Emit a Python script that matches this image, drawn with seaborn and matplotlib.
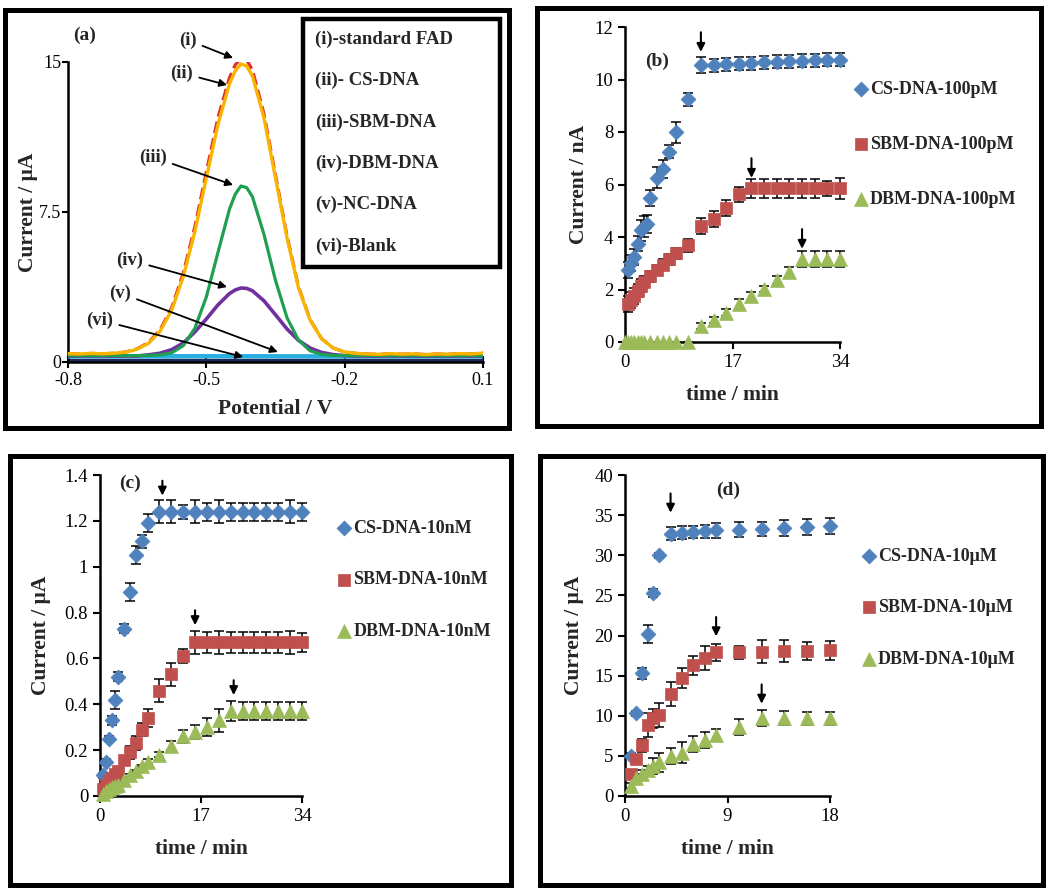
import numpy as np
import pandas as pd
import seaborn as sns
import matplotlib.pyplot as plt
from matplotlib.patches import Rectangle
from matplotlib.ticker import FuncFormatter

# ---------------- panel (a): voltammograms ----------------
potential = [-0.8, -0.775, -0.75, -0.725, -0.7, -0.675, -0.65, -0.625, -0.6, -0.575,
             -0.55, -0.525, -0.5, -0.475, -0.45, -0.4375, -0.425, -0.4125, -0.4, -0.375,
             -0.35, -0.325, -0.3, -0.275, -0.25, -0.225, -0.2, -0.175, -0.15, -0.125,
             -0.1, -0.075, -0.05, -0.025, 0.0, 0.025, 0.05, 0.075, 0.1]
fad_current = [0.42, 0.40, 0.43, 0.41, 0.44, 0.50, 0.66, 0.98, 1.62, 2.72,
               4.45, 6.75, 9.5, 12.2, 14.2, 14.85, 15.2, 15.1, 14.6, 12.4,
               9.35, 6.3, 3.75, 2.12, 1.17, 0.70, 0.50, 0.43, 0.40, 0.38,
               0.42, 0.39, 0.41, 0.37, 0.40, 0.39, 0.42, 0.40, 0.45]
cs_current = [0.42, 0.40, 0.43, 0.41, 0.44, 0.49, 0.64, 0.94, 1.55, 2.6,
              4.27, 6.5, 9.2, 11.85, 13.9, 14.55, 14.9, 14.8, 14.3, 12.2,
              9.2, 6.2, 3.7, 2.1, 1.16, 0.70, 0.50, 0.43, 0.40, 0.38,
              0.42, 0.39, 0.41, 0.37, 0.40, 0.39, 0.42, 0.40, 0.45]
sbm_current = [0.32, 0.32, 0.32, 0.32, 0.32, 0.32, 0.32, 0.33, 0.36, 0.46,
               0.82, 1.68, 3.25, 5.46, 7.63, 8.38, 8.8, 8.72, 8.26, 6.38,
               4.08, 2.21, 1.09, 0.56, 0.38, 0.33, 0.32, 0.32, 0.32, 0.32,
               0.32, 0.32, 0.32, 0.32, 0.32, 0.32, 0.32, 0.32, 0.32]
dbm_current = [0.30, 0.30, 0.30, 0.30, 0.30, 0.30, 0.30, 0.36, 0.44, 0.62,
               0.95, 1.5, 2.15, 2.85, 3.42, 3.6, 3.7, 3.68, 3.56, 3.06,
               2.36, 1.65, 1.08, 0.70, 0.48, 0.37, 0.32, 0.30, 0.30, 0.30,
               0.30, 0.30, 0.30, 0.30, 0.30, 0.30, 0.30, 0.30, 0.30]
flat_potential = [-0.8, -0.5, -0.2, 0.1]
nc_current = [0.28, 0.29, 0.28, 0.28]
blank_current = [0.12, 0.12, 0.12, 0.12]

# ---------------- panel (b): 100 pM ----------------
b_cs_t = [0.5, 1, 1.5, 2, 2.5, 3, 3.5, 4, 5, 6, 7, 8, 10,
          12, 14, 16, 18, 20, 22, 24, 26, 28, 30, 32, 34]
b_cs = [2.75, 3.0, 3.25, 3.75, 4.25, 4.4, 4.5, 5.5, 6.25, 6.6, 7.25, 8.0, 9.25,
        10.55, 10.55, 10.58, 10.6, 10.62, 10.65, 10.67, 10.7, 10.72, 10.73, 10.75, 10.75]
b_cs_err = [0.3, 0.3, 0.3, 0.3, 0.4, 0.4, 0.35, 0.3, 0.4, 0.35, 0.25, 0.4, 0.25,
            0.3, 0.25, 0.25, 0.25, 0.25, 0.25, 0.25, 0.25, 0.25, 0.25, 0.25, 0.25]
b_sbm_t = [0.5, 1, 1.5, 2, 2.5, 3, 4, 5, 6, 7, 8, 10, 12, 14, 16, 18,
           20, 22, 24, 26, 28, 30, 32, 34]
b_sbm = [1.45, 1.6, 1.75, 1.95, 2.15, 2.3, 2.5, 2.75, 2.95, 3.15, 3.38, 3.68, 4.42, 4.7, 5.1, 5.62,
         5.85, 5.85, 5.85, 5.85, 5.85, 5.85, 5.85, 5.85]
b_sbm_err = [0.3, 0.3, 0.3, 0.25, 0.25, 0.2, 0.2, 0.2, 0.2, 0.2, 0.2, 0.25, 0.3, 0.3, 0.3, 0.3,
             0.35, 0.35, 0.35, 0.35, 0.35, 0.35, 0.3, 0.4]
b_dbm_t = [0, 0.5, 1, 1.5, 2, 2.5, 3, 4, 5, 6, 7, 8, 10,
           12, 14, 16, 18, 20, 22, 24, 26, 28, 30, 32, 34]
b_dbm = [0, 0, 0, 0, 0, 0, 0, 0, 0, 0, 0, 0, 0,
         0.62, 0.85, 1.12, 1.45, 1.75, 2.02, 2.35, 2.67, 3.15, 3.15, 3.15, 3.15]
b_dbm_err = [0, 0, 0, 0, 0, 0, 0, 0, 0, 0, 0, 0, 0,
             0.12, 0.12, 0.12, 0.2, 0.15, 0.12, 0.15, 0.18, 0.3, 0.3, 0.3, 0.3]
b_arrow_t = [12, 20, 28]
b_arrow_tip = [11.05, 6.25, 3.55]

# ---------------- panel (c): 10 nM ----------------
c_cs_t = [0.5, 1, 1.5, 2, 2.5, 3, 4, 5, 6, 7, 8, 10,
          12, 14, 16, 18, 20, 22, 24, 26, 28, 30, 32, 34]
c_cs = [0.09, 0.15, 0.25, 0.33, 0.42, 0.52, 0.73, 0.89, 1.05, 1.11, 1.19, 1.24,
        1.24, 1.24, 1.24, 1.24, 1.24, 1.24, 1.24, 1.24, 1.24, 1.24, 1.24, 1.24]
c_cs_err = [0.01, 0.01, 0.01, 0.02, 0.04, 0.02, 0.02, 0.04, 0.04, 0.03, 0.04, 0.05,
            0.05, 0.03, 0.05, 0.04, 0.05, 0.04, 0.04, 0.04, 0.04, 0.04, 0.05, 0.04]
c_sbm_t = [0.5, 1, 1.5, 2, 2.5, 3, 4, 5, 6, 7, 8, 10, 12, 14, 16,
           18, 20, 22, 24, 26, 28, 30, 32, 34]
c_sbm = [0.03, 0.05, 0.065, 0.08, 0.095, 0.11, 0.155, 0.19, 0.23, 0.29, 0.34, 0.46, 0.53, 0.61, 0.67,
         0.67, 0.67, 0.67, 0.67, 0.67, 0.67, 0.67, 0.67, 0.67]
c_sbm_err = [0.01, 0.01, 0.01, 0.01, 0.01, 0.01, 0.01, 0.03, 0.03, 0.03, 0.04, 0.05, 0.05, 0.03, 0.05,
             0.045, 0.05, 0.045, 0.045, 0.045, 0.045, 0.045, 0.05, 0.04]
c_dbm_t = [0.5, 1, 1.5, 2, 2.5, 3, 4, 5, 6, 7, 8, 10, 12, 14, 16, 18, 20, 22,
           24, 26, 28, 30, 32, 34]
c_dbm = [0.01, 0.02, 0.03, 0.04, 0.045, 0.05, 0.07, 0.09, 0.11, 0.13, 0.15, 0.18, 0.22, 0.26, 0.28, 0.30, 0.33, 0.37,
         0.37, 0.37, 0.37, 0.37, 0.37, 0.37]
c_dbm_err = [0.005, 0.005, 0.005, 0.005, 0.005, 0.005, 0.005, 0.005, 0.005, 0.005, 0.01, 0.01, 0.02, 0.03, 0.03, 0.04, 0.05, 0.045,
             0.04, 0.04, 0.04, 0.04, 0.04, 0.04]
c_arrow_t = [10.5, 16, 22.5]
c_arrow_tip = [1.31, 0.745, 0.44]

# ---------------- panel (d): 10 uM ----------------
d_t = [0.5, 1, 1.5, 2, 2.5, 3, 4, 5, 6, 7, 8, 10, 12, 14, 16, 18]
d_cs = [5.0, 10.3, 15.3, 20.2, 25.3, 30.0, 32.7, 32.8, 32.9, 33.0, 33.1, 33.2, 33.3, 33.4, 33.5, 33.6]
d_cs_err = [0.3, 0.3, 0.7, 1.1, 0.5, 0.3, 0.8, 0.8, 0.8, 0.8, 0.9, 0.9, 0.9, 1.0, 1.0, 1.0]
d_sbm = [2.7, 4.6, 6.3, 8.9, 9.7, 10.1, 12.7, 14.7, 16.3, 17.2, 17.9, 17.9, 18.0, 18.05, 18.1, 18.15]
d_sbm_err = [0.3, 0.5, 0.8, 1.5, 1.2, 1.5, 1.5, 1.3, 1.2, 1.5, 1.1, 0.8, 1.4, 1.4, 1.1, 1.2]
d_dbm = [1.3, 2.2, 2.8, 3.3, 3.7, 4.2, 5.0, 5.4, 6.5, 7.0, 7.6, 8.6, 9.7, 9.7, 9.7, 9.7]
d_dbm_err = [0.3, 0.5, 0.5, 0.5, 1.0, 1.2, 1.0, 1.3, 1.0, 1.0, 0.8, 1.0, 1.0, 0.9, 0.8, 0.8]
d_arrow_t = [4, 8, 12]
d_arrow_tip = [35.3, 19.9, 11.5]

BLUE = '#4F81BD'
RED = '#C0504D'
GREEN = '#9BBB59'

sns.set_style('ticks')
plt.rcParams['font.family'] = ['Liberation Serif', 'DejaVu Serif']
plt.rcParams['axes.unicode_minus'] = False
plt.rcParams['mathtext.default'] = 'regular'

W, H = 1050, 889
fig = plt.figure(figsize=(W / 100, H / 100), dpi=100)


def px_axes(left, top, right, bottom):
    return fig.add_axes([left / W, 1 - bottom / H, (right - left) / W, (bottom - top) / H])


def style_axes(ax, label_size=13.5):
    sns.despine(ax=ax)
    for s in ['left', 'bottom']:
        ax.spines[s].set_color('black')
        ax.spines[s].set_linewidth(1.8)
    ax.tick_params(direction='out', length=5, width=1.5, colors='black', labelsize=label_size)
    ax.set_facecolor('white')
    ax.yaxis.set_major_formatter(FuncFormatter(lambda v, p: f'{v:g}'))
    ax.xaxis.set_major_formatter(FuncFormatter(lambda v, p: f'{v:g}'))


def panel_box(left, top, right, bottom):
    fig.patches.append(Rectangle((left / W, 1 - bottom / H), (right - left) / W, (bottom - top) / H,
                                 transform=fig.transFigure, fill=False, edgecolor='black',
                                 linewidth=3.6, zorder=0))


bold = dict(fontweight='bold')

# ================= panel (a) =================
ax = px_axes(68, 62, 483, 362)
sns.lineplot(x=flat_potential, y=blank_current, color='#1b2a5c', lw=2.5, ax=ax, label='(vi)-Blank', zorder=2)
sns.lineplot(x=flat_potential, y=nc_current, color='#29aee0', lw=3.2, ax=ax, label='(v)-NC-DNA', zorder=3)
sns.lineplot(x=potential, y=dbm_current, color='#7030a0', lw=2.6, ax=ax, label='(iv)-DBM-DNA', zorder=4)
sns.lineplot(x=potential, y=sbm_current, color='#1fa050', lw=2.3, ax=ax, label='(iii)-SBM-DNA', zorder=5)
sns.lineplot(x=potential, y=fad_current, color='#e0302a', lw=2.3, linestyle='--', ax=ax,
             label='(i)-standard FAD', zorder=6)
sns.lineplot(x=potential, y=cs_current, color='#f7b500', lw=2.4, ax=ax, label='(ii)- CS-DNA', zorder=7)
ax.set_xlim(-0.8, 0.1)
ax.set_ylim(0, 15)
ax.set_xticks([-0.8, -0.5, -0.2, 0.1])
ax.set_yticks([0, 7.5, 15])
style_axes(ax, 13)
ax.tick_params(axis='y', length=4, pad=1)
ax.tick_params(axis='x', direction='inout', length=8, pad=3)
ax.set_xlabel('Potential / V', fontsize=15.5, **bold)
ax.set_ylabel('Current / μA', fontsize=15.5, **bold)
ax.yaxis.set_label_coords(-0.072, 0.5)
ax.xaxis.set_label_coords(0.5, -0.125)
h, l = ax.get_legend_handles_labels()
order = ['(i)-standard FAD', '(ii)- CS-DNA', '(iii)-SBM-DNA', '(iv)-DBM-DNA', '(v)-NC-DNA', '(vi)-Blank']
hm = dict(zip(l, h))
leg = ax.legend([hm[k] for k in order], order, loc='upper left', bbox_to_anchor=(0.566, 0.3, 0.475, 0.845),
                mode='expand', handlelength=0, handletextpad=0, labelspacing=1.28, borderpad=0.65,
                borderaxespad=0, fancybox=False, framealpha=1, edgecolor='black',
                prop=dict(weight='bold', size=13.5))
leg.get_frame().set_linewidth(3.2)
for line in leg.get_lines():
    line.set_visible(False)
ax.text(0.04, 1.09, '(a)', transform=ax.transAxes, fontsize=14, ha='center', va='center', **bold)

ann_text = ['(i)', '(ii)', '(iii)', '(iv)', '(v)', '(vi)']
ann_from = [(-0.540, 16.1), (-0.553, 14.45), (-0.616, 10.25), (-0.666, 5.1), (-0.687, 3.45), (-0.731, 2.1)]
ann_to = [(-0.442, 15.2), (-0.455, 13.85), (-0.442, 8.85), (-0.455, 3.75), (-0.345, 0.5), (-0.420, 0.25)]
for s, xyt, xy in zip(ann_text, ann_from, ann_to):
    ax.annotate(s, xy=xy, xytext=xyt, fontsize=13.5, ha='center', va='center', annotation_clip=False,
                arrowprops=dict(arrowstyle='-|>', color='black', lw=1.3, mutation_scale=11, shrinkA=2, shrinkB=0),
                zorder=10, **bold)


# ================= panels (b)-(d) =================
def kinetics(ax, series, arrows_t, arrows_tip, arrow_len):
    for t, y, err, marker, colour, size, label in series:
        ax.errorbar(t, y, yerr=err, fmt='none', ecolor='black', elinewidth=1.1, capsize=3.5,
                    capthick=1.1, zorder=2, clip_on=False)
        sns.scatterplot(x=t, y=y, marker=marker, color=colour, s=size, edgecolor=colour, linewidth=0.5,
                        label=label, ax=ax, zorder=3, clip_on=False)
    for t, tip in zip(arrows_t, arrows_tip):
        ax.annotate('', xy=(t, tip), xytext=(t, tip + arrow_len),
                    arrowprops=dict(arrowstyle='-|>', color='black', lw=1.5, mutation_scale=12,
                                    shrinkA=0, shrinkB=0))


def finish(ax, xmax, xticks, ymax, yticks, ylabel, ylab_x, xlab_y, tag, tag_xy, leg_xy, spacing):
    ax.set_xlim(0, xmax)
    ax.set_ylim(0, ymax)
    ax.set_xticks(xticks)
    ax.set_yticks(yticks)
    style_axes(ax)
    ax.set_xlabel('time / min', fontsize=15.5, **bold)
    ax.set_ylabel(ylabel, fontsize=15.5, **bold)
    ax.yaxis.set_label_coords(ylab_x, 0.5)
    ax.xaxis.set_label_coords(0.5, xlab_y)
    ax.text(tag_xy[0], tag_xy[1], tag, transform=ax.transAxes, fontsize=14, ha='center', va='center', **bold)
    ax.legend(loc='upper left', bbox_to_anchor=leg_xy, frameon=False, prop=dict(weight='bold', size=13),
              handletextpad=0.05, handlelength=0.9, labelspacing=spacing, borderaxespad=0, borderpad=0)


ax = px_axes(625, 27, 840, 342)
kinetics(ax, [(b_cs_t, b_cs, b_cs_err, 'D', BLUE, 58, 'CS-DNA-100pM'),
              (b_sbm_t, b_sbm, b_sbm_err, 's', RED, 72, 'SBM-DNA-100pM'),
              (b_dbm_t, b_dbm, b_dbm_err, '^', GREEN, 100, 'DBM-DNA-100pM')],
         b_arrow_t, b_arrow_tip, 0.75)
finish(ax, 34, [0, 17, 34], 12, [0, 2, 4, 6, 8, 10, 12], 'Current / nA', -0.167, -0.137,
       '(b)', (0.147, 0.89), (1.06, 0.828), 2.1)

ax = px_axes(100, 475, 302, 796)
kinetics(ax, [(c_cs_t, c_cs, c_cs_err, 'D', BLUE, 58, 'CS-DNA-10nM'),
              (c_sbm_t, c_sbm, c_sbm_err, 's', RED, 72, 'SBM-DNA-10nM'),
              (c_dbm_t, c_dbm, c_dbm_err, '^', GREEN, 100, 'DBM-DNA-10nM')],
         c_arrow_t, c_arrow_tip, 0.065)
finish(ax, 34, [0, 17, 34], 1.4, [0, 0.2, 0.4, 0.6, 0.8, 1.0, 1.2, 1.4], 'Current / μA', -0.243, -0.134,
       '(c)', (0.149, 0.974), (1.17, 0.861), 1.92)

ax = px_axes(625, 475, 830, 796)
kinetics(ax, [(d_t, d_cs, d_cs_err, 'D', BLUE, 58, 'CS-DNA-10μM'),
              (d_t, d_sbm, d_sbm_err, 's', RED, 72, 'SBM-DNA-10μM'),
              (d_t, d_dbm, d_dbm_err, '^', GREEN, 100, 'DBM-DNA-10μM')],
         d_arrow_t, d_arrow_tip, 2.4)
finish(ax, 18, [0, 9, 18], 40, [0, 5, 10, 15, 20, 25, 30, 35, 40], 'Current / μA', -0.2, -0.134,
       '(d)', (0.504, 0.953), (1.15, 0.774), 1.92)

panel_box(5, 10, 509, 428)
panel_box(537, 8, 1041, 426)
panel_box(10, 456, 511, 885)
panel_box(540, 456, 1043, 885)

fig.savefig('out.png', dpi=100, facecolor='white')
